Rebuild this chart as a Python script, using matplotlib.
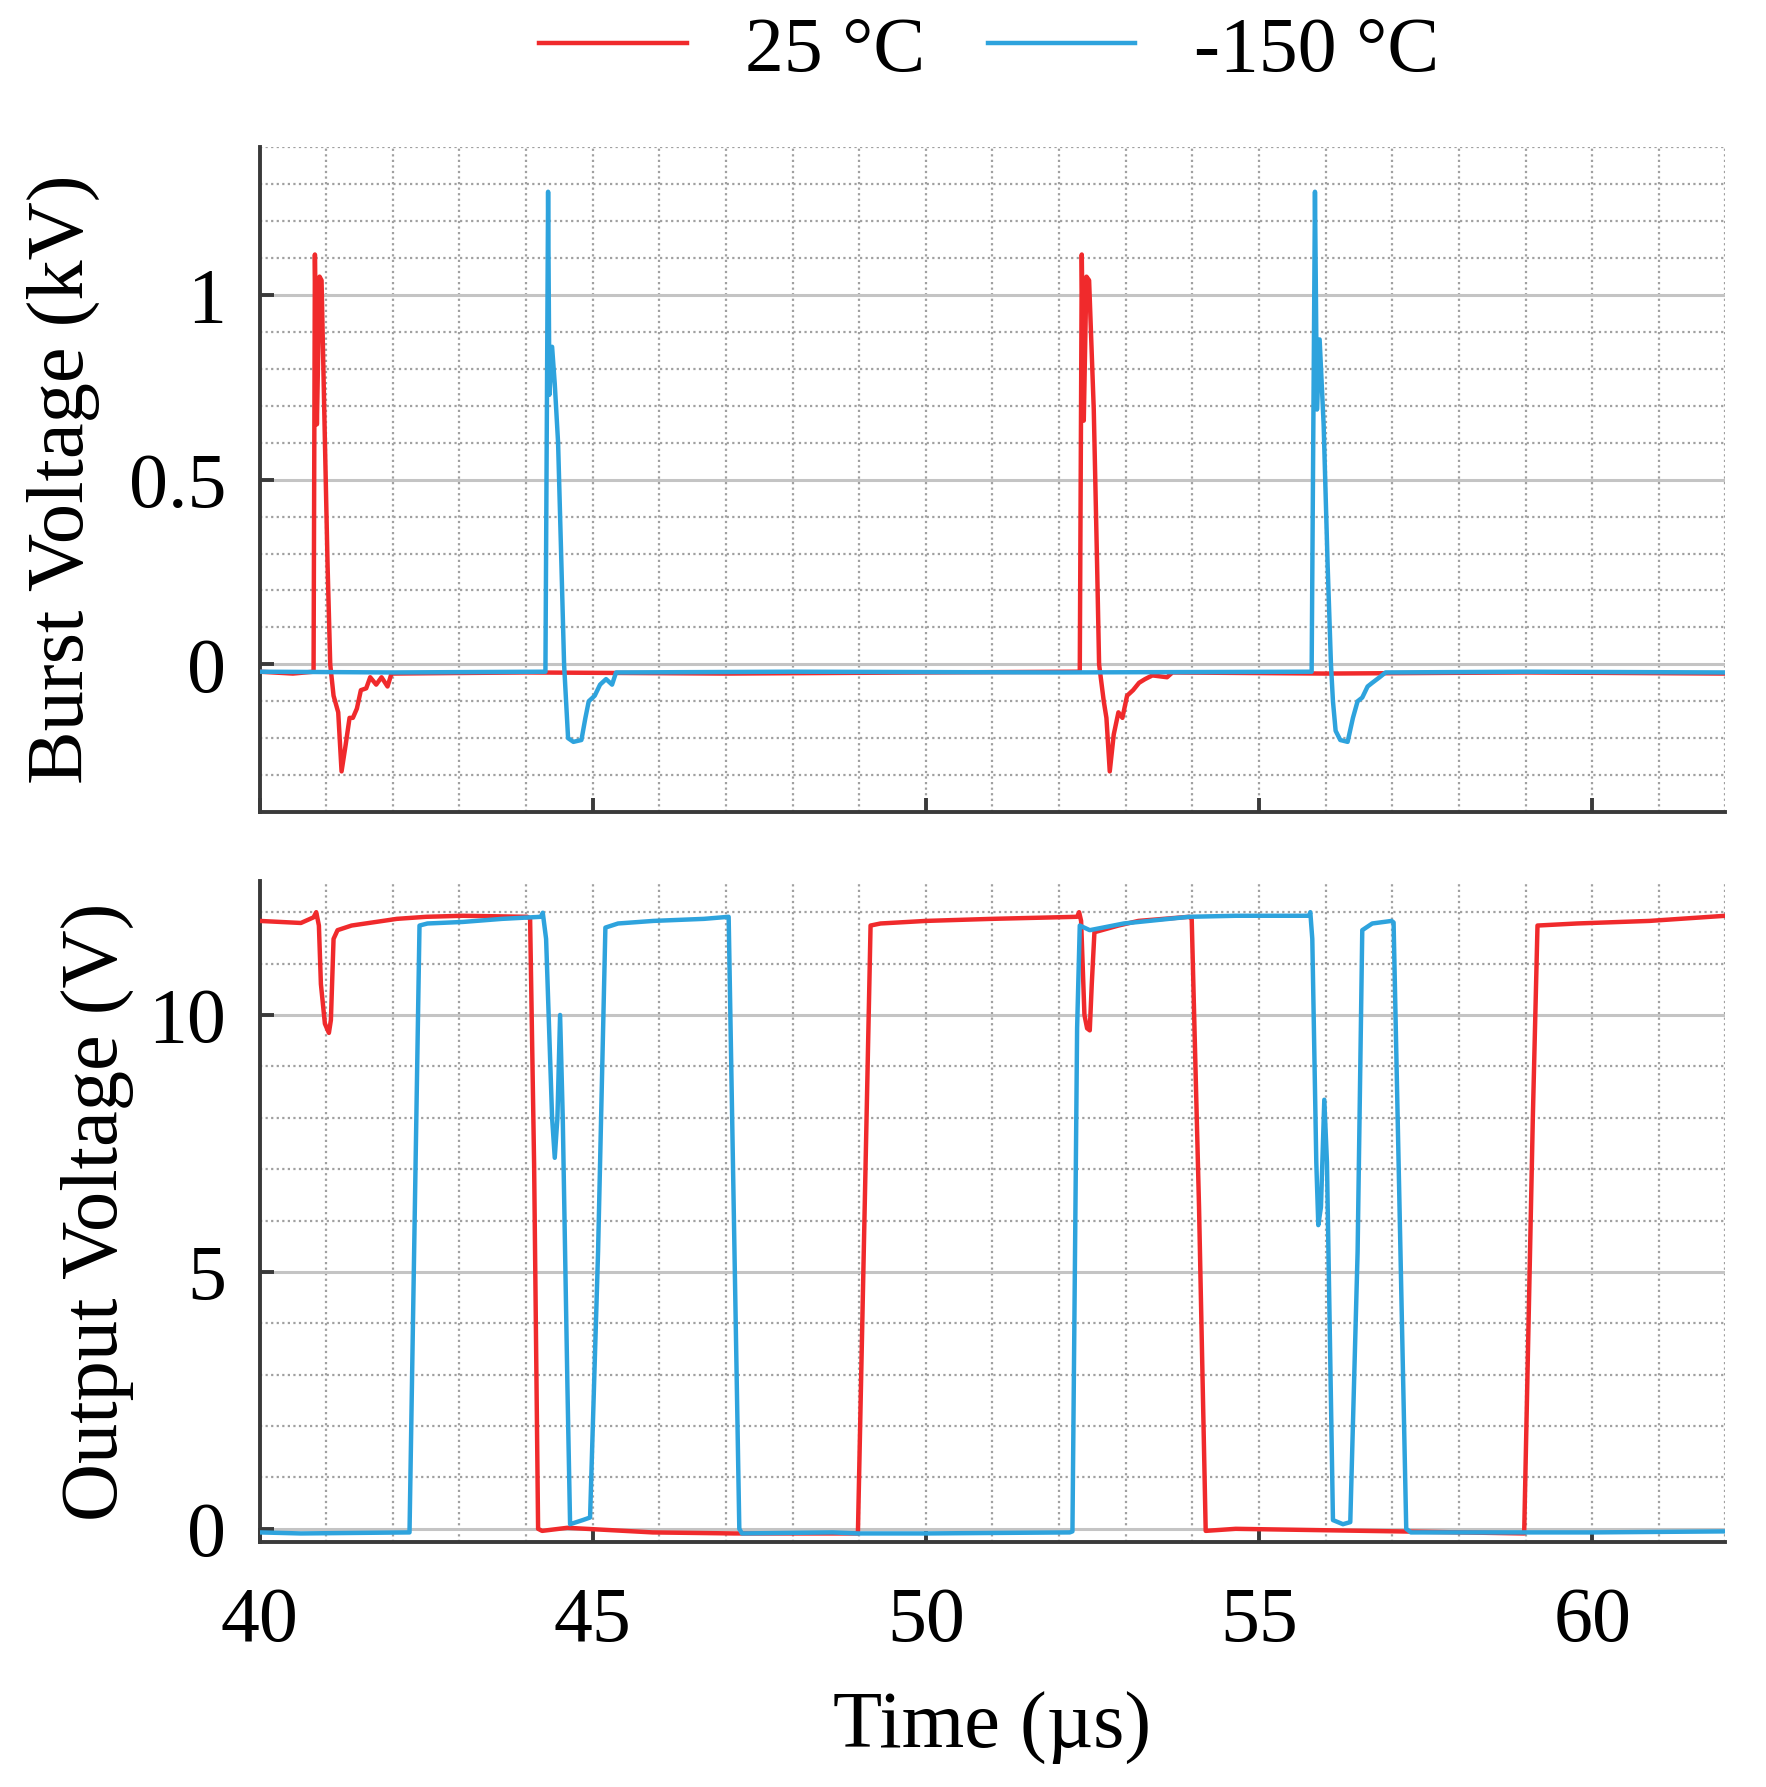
import matplotlib
matplotlib.use("Agg")
import matplotlib.pyplot as plt
from matplotlib.ticker import MultipleLocator

plt.rcParams['font.family'] = ['Liberation Serif', 'DejaVu Serif']
plt.rcParams['mathtext.fontset'] = 'stix'

# ---------------- data ----------------
labels = ["25 °C", "-150 °C"]
colors = ["#f02a2c", "#2ea3dd"]

# Burst voltage (kV)
burst_t_25 = [40.0, 40.5, 40.81, 40.83, 40.86, 40.90, 40.93, 40.97, 41.02, 41.06, 41.11, 41.18,
              41.23, 41.29, 41.35, 41.40, 41.46, 41.52, 41.60, 41.66, 41.75, 41.83, 41.92, 41.98,
              44.0, 47.0, 50.0, 52.31, 52.34, 52.37, 52.41, 52.45, 52.52, 52.57, 52.60, 52.67,
              52.71, 52.76, 52.82, 52.89, 52.95, 53.02, 53.11, 53.20, 53.29, 53.40, 53.62, 53.70,
              56.0, 59.0, 62.0]
burst_v_25 = [-0.02, -0.025, -0.02, 1.11, 0.65, 1.05, 1.04, 0.69, 0.27, 0.0, -0.085, -0.13,
              -0.29, -0.22, -0.145, -0.145, -0.12, -0.07, -0.065, -0.035, -0.055, -0.035, -0.06, -0.025,
              -0.022, -0.025, -0.022, -0.02, 1.11, 0.66, 1.05, 1.04, 0.69, 0.27, 0.0, -0.10,
              -0.145, -0.29, -0.19, -0.13, -0.145, -0.085, -0.07, -0.05, -0.04, -0.03, -0.035, -0.022,
              -0.025, -0.022, -0.025]

burst_t_150 = [40.0, 42.0, 44.29, 44.33, 44.35, 44.39, 44.43, 44.48, 44.53, 44.57, 44.60, 44.63,
               44.71, 44.83, 44.89, 44.94, 45.03, 45.11, 45.20, 45.29, 45.35,
               48.0, 52.0, 55.79, 55.84, 55.87, 55.91, 55.97, 56.03, 56.08, 56.11, 56.15,
               56.22, 56.33, 56.41, 56.48, 56.55, 56.63, 56.70, 56.81, 56.90, 59.0, 62.0]
burst_v_150 = [-0.02, -0.022, -0.02, 1.28, 0.73, 0.86, 0.76, 0.60, 0.27, 0.0, -0.10, -0.20,
               -0.21, -0.205, -0.145, -0.10, -0.085, -0.055, -0.04, -0.055, -0.022,
               -0.02, -0.022, -0.02, 1.28, 0.69, 0.88, 0.65, 0.27, 0.0, -0.10, -0.18,
               -0.205, -0.21, -0.145, -0.10, -0.09, -0.06, -0.05, -0.035, -0.022, -0.02, -0.022]

# Output voltage (V)
out_t_25 = [40.0, 40.62, 40.81, 40.85, 40.89, 40.92, 40.98, 41.04, 41.07, 41.11, 41.17, 41.38,
            42.06, 42.5, 43.05, 44.02, 44.06, 44.12, 44.18, 44.24, 44.62, 45.9, 47.12, 48.98,
            49.17, 49.32, 50.0, 50.99, 52.27, 52.30, 52.33, 52.38, 52.42, 52.46, 52.49, 52.53,
            52.89, 53.19, 53.95, 53.99, 54.10, 54.20, 54.65, 56.11, 57.57, 58.98, 59.11, 59.18,
            59.77, 60.86, 62.0]
out_v_25 = [11.83, 11.79, 11.90, 12.0, 11.74, 10.6, 9.83, 9.65, 9.9, 11.48, 11.65, 11.74,
            11.87, 11.91, 11.93, 11.91, 11.87, 7.1, 0.0, -0.04, 0.02, -0.07, -0.09, -0.09,
            11.74, 11.78, 11.83, 11.87, 11.91, 12.0, 11.83, 10.0, 9.74, 9.70, 10.6, 11.61,
            11.74, 11.83, 11.91, 11.87, 6.26, -0.04, 0.0, -0.03, -0.06, -0.09, 8.0, 11.74,
            11.78, 11.83, 11.93]

out_t_150 = [40.0, 40.62, 42.25, 42.40, 42.52, 43.05, 43.64, 44.22, 44.25, 44.30, 44.39, 44.43,
             44.47, 44.51, 44.55, 44.62, 44.66, 44.85, 44.96, 45.08, 45.19, 45.38, 45.91, 46.67,
             47.04, 47.20, 47.24, 48.60, 48.98, 50.0, 52.16, 52.20, 52.27, 52.31, 52.46, 52.97,
             53.95, 54.65, 55.75, 55.77, 55.80, 55.86, 55.89, 55.93, 55.98, 56.02, 56.11, 56.26,
             56.37, 56.48, 56.55, 56.70, 56.99, 57.02, 57.21, 57.28, 58.30, 60.0, 62.0]
out_v_150 = [-0.07, -0.09, -0.07, 11.74, 11.78, 11.81, 11.87, 11.91, 11.99, 11.48, 8.0, 7.22,
             8.0, 10.0, 8.0, 2.78, 0.09, 0.17, 0.22, 5.39, 11.70, 11.78, 11.83, 11.87,
             11.91, 0.0, -0.09, -0.07, -0.09, -0.09, -0.07, -0.05, 9.74, 11.74, 11.65, 11.78,
             11.91, 11.93, 11.93, 12.0, 11.48, 7.13, 5.91, 6.26, 8.35, 7.13, 0.17, 0.09,
             0.13, 5.39, 11.65, 11.78, 11.83, 11.80, 0.0, -0.07, -0.07, -0.07, -0.05]

x_ticks = [40, 45, 50, 55, 60]
burst_ticks = [0, 0.5, 1]
burst_ticklabels = ["0", "0.5", "1"]
out_ticks = [0, 5, 10]

# ---------------- figure ----------------
fig = plt.figure(figsize=(8.83, 8.935), dpi=200)
ax1 = fig.add_axes([0.147, 0.5456, 0.830, 0.3719])
ax2 = fig.add_axes([0.147, 0.137, 0.830, 0.3698])

lw = 1.6
ax1.plot(burst_t_25, burst_v_25, color=colors[0], lw=lw, label=labels[0], zorder=3)
ax1.plot(burst_t_150, burst_v_150, color=colors[1], lw=lw, label=labels[1], zorder=4)
ax2.plot(out_t_25, out_v_25, color=colors[0], lw=lw, zorder=3)
ax2.plot(out_t_150, out_v_150, color=colors[1], lw=lw, zorder=4)

ax1.set_xlim(40, 62)
ax1.set_ylim(-0.4, 1.4)
ax2.set_xlim(40, 62)
ax2.set_ylim(-0.26, 12.6)

for ax, yt, ymin in [(ax1, burst_ticks, 0.1), (ax2, out_ticks, 1)]:
    ax.set_xticks(x_ticks)
    ax.set_yticks(yt)
    ax.xaxis.set_minor_locator(MultipleLocator(1))
    ax.yaxis.set_minor_locator(MultipleLocator(ymin))
    ax.grid(which='minor', axis='both', color='#a0a0a0', ls=(0, (1, 1.5)), lw=0.8, zorder=0)
    ax.grid(which='major', axis='y', color='#c4c4c4', ls='-', lw=1.1, zorder=0)
    ax.grid(which='major', axis='x', color='#a0a0a0', ls=(0, (1, 1.5)), lw=0.8, zorder=0)
    for s in ['top', 'right']:
        ax.spines[s].set_visible(False)
    for s in ['left', 'bottom']:
        ax.spines[s].set_color('#3a3a3a')
        ax.spines[s].set_linewidth(1.4)
    ax.tick_params(which='major', direction='in', length=5, width=1.4, color='#3a3a3a',
                   labelsize=28, pad=12)
    ax.tick_params(which='minor', length=0)
    ax.set_axisbelow(True)

ax1.set_yticklabels(burst_ticklabels)
ax1.tick_params(axis='x', labelbottom=False)
ax2.set_xticklabels([str(v) for v in x_ticks])
ax2.tick_params(axis='x', pad=16)

ax1.set_ylabel("Burst Voltage (kV)", fontsize=29)
ax2.set_ylabel("Output Voltage (V)", fontsize=29)
ax2.set_xlabel("Time (µs)", fontsize=29, labelpad=12)
ax1.yaxis.set_label_coords(-0.109, 0.5)
ax2.yaxis.set_label_coords(-0.086, 0.5)

fig.legend(loc='center', bbox_to_anchor=(0.56, 0.971), ncol=2, frameon=False,
           fontsize=28, handlelength=1.9, handletextpad=0.75, columnspacing=0.8)

fig.savefig("out.png", dpi=200, facecolor='white')
